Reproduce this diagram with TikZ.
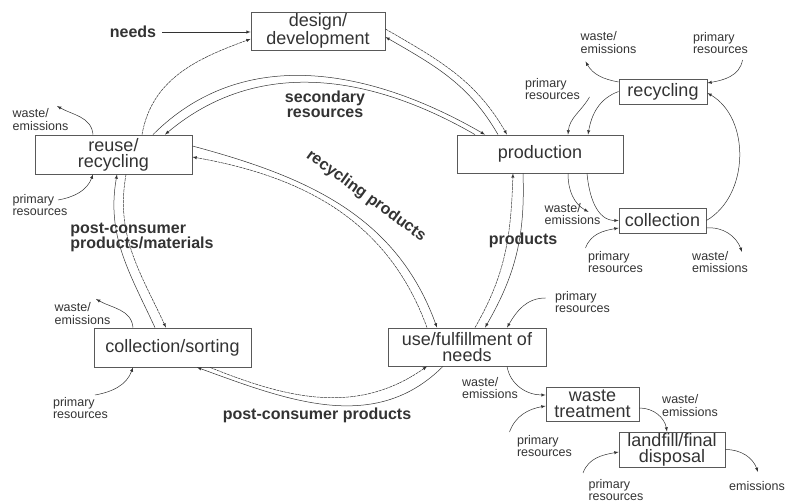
\documentclass[tikz,border=0pt]{standalone}
\usepackage{fontspec}
\setmainfont{Liberation Sans}
\definecolor{ink}{gray}{0.2}
\definecolor{frame}{gray}{0.35}
\tikzset{
  box/.style={draw=frame, line width=0.8pt, text=ink, align=center, inner sep=0pt, font=\fontsize{18}{16}\selectfont},
  flowlabel/.style={text=ink, align=center, inner sep=0pt, font=\bfseries\fontsize{16}{15}\selectfont},
  sidelabel/.style={text=ink, align=left, inner sep=0pt, font=\fontsize{12.5}{12.5}\selectfont},
  flow/.style={->, draw=ink, line width=0.5pt},
  backflow/.style={flow, dash pattern=on 3pt off 0.7pt},
}
\begin{document}
\begin{tikzpicture}[>=latex, x=1pt, y=1pt]
\useasboundingbox (0,0) rectangle (786,502);

\node (design) at (318,471)[box, minimum width=134pt, minimum height=38pt]{design/\\development};
\node (reuse) at (113.5,347.5)[box, minimum width=157pt, minimum height=39pt]{reuse/\\recycling};
\node (production) at (540,348)[box, minimum width=166pt, minimum height=38pt]{production};
\node (recycling) at (663,410.5)[box, minimum width=88pt, minimum height=25pt]{recycling};
\node (collection) at (662.5,281.5)[box, minimum width=87pt, minimum height=25pt]{collection};
\node (sorting) at (172.5,154.5)[box, minimum width=157pt, minimum height=39pt]{collection/sorting};
\node (use) at (467,155)[box, minimum width=158pt, minimum height=38pt]{use/fulfillment of\\needs};
\node (treatment) at (592.5,98)[box, minimum width=93pt, minimum height=34pt]{waste\\treatment};
\node (landfill) at (672,52.5)[box, minimum width=106pt, minimum height=35pt]{landfill/final\\disposal};

\node (needs) at (133,470)[flowlabel]{needs};
\node (secondary) at (325,398)[flowlabel]{secondary\\resources};
\node (recprod) at (366,306)[flowlabel, rotate=-36]{recycling products};
\node (pcmat) at (142,264.5)[flowlabel, align=left]{post-consumer\\products/materials};
\node (products) at (523,262)[flowlabel]{products};
\node (pcprod) at (317,87)[flowlabel]{post-consumer products};

\node (wReuse) at (40.5,382.5)[sidelabel]{waste/\\emissions};
\node (pReuse) at (40,297)[sidelabel]{primary\\resources};
\node (wRecyc) at (608.5,459.5)[sidelabel]{waste/\\emissions};
\node (pRecyc) at (720.5,459)[sidelabel]{primary\\resources};
\node (pProd) at (552.5,413)[sidelabel]{primary\\resources};
\node (wProd) at (572.5,288)[sidelabel]{waste/\\emissions};
\node (pColl) at (615.5,240)[sidelabel]{primary\\resources};
\node (wColl) at (720,240)[sidelabel]{waste/\\emissions};
\node (pUse) at (582.5,200)[sidelabel]{primary\\resources};
\node (wUse) at (490,114)[sidelabel]{waste/\\emissions};
\node (pTreat) at (544.5,56)[sidelabel]{primary\\resources};
\node (wTreat) at (690,96.5)[sidelabel]{waste/\\emissions};
\node (pLand) at (616,12)[sidelabel]{primary\\resources};
\node (eLand) at (757,16)[sidelabel]{emissions};
\node (wSort) at (82.5,188.5)[sidelabel]{waste/\\emissions};
\node (pSort) at (80.5,94)[sidelabel]{primary\\resources};

% main cycle
\draw[flow] ([xshift=6pt]needs.east) -- (needs.east -| design.west);
\draw[backflow] ([yshift=2pt]design.east) to[out=-30,in=120] ([xshift=-33pt]production.north);
\draw[flow] ([xshift=-42pt]production.north) to[out=120,in=-30] ([yshift=-6pt]design.east);
\draw[flow] ([xshift=39.5pt]reuse.north) to[out=45,in=150] ([xshift=-55pt]production.north);
\draw[flow] ([xshift=-65pt]production.north) to[out=150,in=40] ([xshift=51.5pt]reuse.north);
\draw[backflow] ([xshift=28.5pt]reuse.north) to[out=80,in=-160] ([yshift=-8pt]design.west);
\draw[flow] ([xshift=-17pt]production.south) to[out=-88,in=60] ([xshift=18pt]use.north);
\draw[backflow] ([xshift=8pt]use.north) to[out=60,in=-92] ([xshift=-27pt]production.south);
\draw[flow] ([yshift=8.5pt]reuse.east) to[out=-15,in=110] ([xshift=-30pt]use.north);
\draw[backflow] ([xshift=-40pt]use.north) to[out=110,in=-10] ([yshift=-2.5pt]reuse.east);
\draw[flow] ([xshift=-24pt]use.south) to[out=-135,in=-20] ([xshift=24.5pt]sorting.south);
\draw[backflow] ([xshift=37.5pt]sorting.south) to[out=-22,in=-145] ([xshift=-40pt]use.south);
\draw[flow] ([xshift=-17.5pt]sorting.north) to[out=115,in=-100] ([xshift=3.5pt]reuse.south);
\draw[backflow] ([xshift=12.5pt]reuse.south) to[out=-100,in=115] ([xshift=-6.5pt]sorting.north);

% recycling loop
\draw[flow] ([yshift=9.5pt]recycling.west) to[out=170,in=-60] ([shift={(-23pt,-19pt)}]wRecyc.center);
\draw[flow] ([shift={(22pt,-17pt)}]pRecyc.center) to[out=-100,in=10] ([yshift=8.5pt]recycling.east);
\draw[flow] (recycling.west) to[out=-160,in=80] ([xshift=48pt]production.north);
\draw[flow] ([shift={(37pt,-8pt)}]pProd.center) to[out=-120,in=85] ([xshift=28pt]production.north);
\draw[flow] ([xshift=28pt]production.south) to[out=-90,in=150] ([shift={(16pt,2pt)}]wProd.center);
\draw[flow] ([xshift=47pt]production.south) to[out=-85,in=180] (collection.west);
\draw[flow] (collection.east) to[out=30,in=-30] ([yshift=-1.5pt]recycling.east);
\draw[flow] ([shift={(-30pt,14pt)}]pColl.center) to[out=70,in=-170] ([yshift=-7.5pt]collection.west);
\draw[flow] ([yshift=-7.5pt]collection.east) to[out=5,in=110] ([shift={(22pt,10pt)}]wColl.center);

% disposal
\draw[flow] ([shift={(-37pt,4pt)}]pUse.center) to[out=180,in=60] ([xshift=40pt]use.north);
\draw[flow] ([xshift=40pt]use.south) to[out=-80,in=180] ([yshift=9pt]treatment.west);
\draw[flow] ([shift={(-35pt,14pt)}]pTreat.center) to[out=70,in=-170] ([yshift=-2pt]treatment.west);
\draw[flow] ([yshift=-4pt]treatment.east) to[out=0,in=100] ([xshift=-5pt]landfill.north);
\draw[flow] ([shift={(-33pt,17pt)}]pLand.center) to[out=70,in=-170] ([yshift=-2.5pt]landfill.west);
\draw[flow] (landfill.east) to[out=0,in=110] ([shift={(1pt,14pt)}]eLand.center);

% side flows
\draw[flow] ([xshift=-20.5pt]reuse.north) to[out=95,in=-30] ([shift={(16.5pt,13.5pt)}]wReuse.center);
\draw[flow] ([shift={(18pt,5pt)}]pReuse.center) to[out=10,in=-110] ([xshift=-20.5pt]reuse.south);
\draw[flow] ([xshift=-39.5pt]sorting.north) to[out=95,in=-30] ([shift={(13.5pt,14.5pt)}]wSort.center);
\draw[flow] ([shift={(14.5pt,13pt)}]pSort.center) to[out=10,in=-110] ([xshift=-39.5pt]sorting.south);
\end{tikzpicture}
\end{document}
